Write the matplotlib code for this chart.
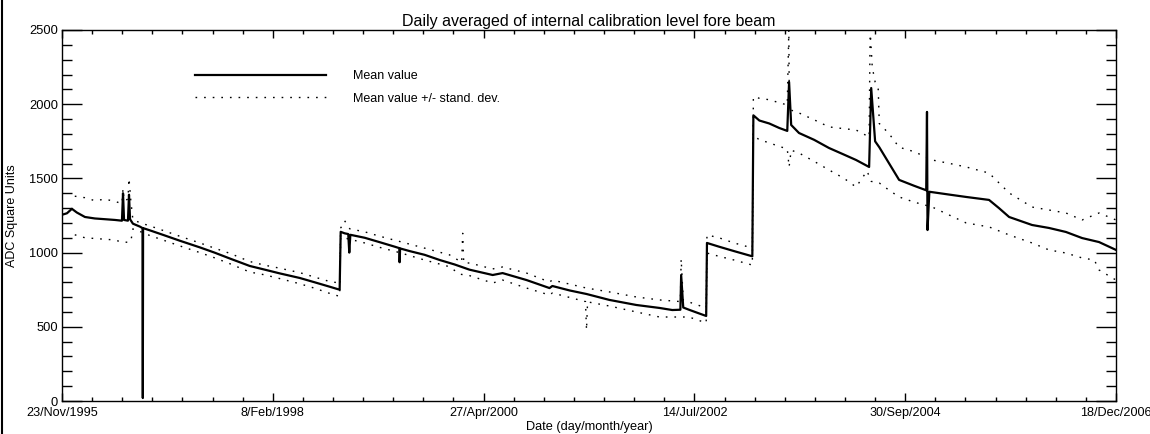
import numpy as np
import matplotlib
matplotlib.use('Agg')
import matplotlib.pyplot as plt
import matplotlib.dates as mdates
from matplotlib.ticker import MultipleLocator, FixedLocator
from matplotlib.lines import Line2D

plt.rcParams['font.family'] = ['Liberation Sans', 'DejaVu Sans']

# daily averages (ADC square units)
mean_dates = ['1995-11-23', '1995-12-12', '1995-12-31', '1996-01-19', '1996-02-19', '1996-03-28',
              '1996-05-06', '1996-06-13', '1996-07-10', '1996-07-14', '1996-07-18', '1996-08-02',
              '1996-08-06', '1996-08-10', '1996-08-21', '1996-09-17', '1996-09-27', '1996-09-28',
              '1996-09-29', '1996-10-25', '1996-12-22', '1997-02-17', '1997-05-05', '1997-06-30',
              '1997-08-28', '1997-11-12', '1998-01-09', '1998-03-07', '1998-05-23', '1998-07-19',
              '1998-09-15', '1998-10-23', '1998-10-27', '1998-11-11', '1998-11-25', '1998-11-29',
              '1998-12-03', '1999-01-27', '1999-03-26', '1999-05-22', '1999-06-09', '1999-06-10',
              '1999-06-12', '1999-07-19', '1999-09-14', '1999-11-11', '2000-01-07', '2000-03-04',
              '2000-06-01', '2000-07-09', '2000-10-09', '2001-01-05', '2001-01-16', '2001-03-23',
              '2001-05-27', '2001-08-23', '2001-12-04', '2002-03-03', '2002-04-21', '2002-05-22',
              '2002-05-25', '2002-06-02', '2002-06-24', '2002-08-02', '2002-08-29', '2002-09-01',
              '2002-10-17', '2002-12-14', '2003-02-22', '2003-02-26', '2003-03-21', '2003-04-28',
              '2003-06-05', '2003-07-06', '2003-07-13', '2003-07-21', '2003-08-20', '2003-10-17',
              '2003-12-13', '2004-02-09', '2004-03-26', '2004-05-15', '2004-05-23', '2004-06-07',
              '2004-06-23', '2004-07-31', '2004-09-07', '2004-11-04', '2004-12-20', '2004-12-23',
              '2004-12-25', '2005-01-01', '2005-03-22', '2005-05-22', '2005-08-18', '2005-09-25',
              '2005-11-03', '2006-01-30', '2006-04-05', '2006-06-09', '2006-08-10', '2006-10-14',
              '2006-12-18']
mean_vals = [1255, 1265, 1295, 1270, 1240, 1230,
             1225, 1220, 1215, 1400, 1220, 1215,
             1390, 1225, 1195, 1175, 1165, 20,
             1165, 1150, 1115, 1080, 1035, 1000,
             960, 910, 885, 860, 829, 800,
             770, 750, 1140, 1130, 1125, 1000,
             1120, 1100, 1070, 1040, 1030, 935,
             1028, 1010, 985, 950, 920, 885,
             849, 862, 815, 761, 775, 745,
             721, 681, 647, 627, 613, 615,
             849, 630, 615, 590, 573, 1065,
             1040, 1010, 975, 1925, 1890, 1870,
             1840, 1820, 2150, 1860, 1806, 1760,
             1705, 1660, 1624, 1577, 2109, 1750,
             1710, 1600, 1490, 1450, 1420, 1948,
             1152, 1410, 1390, 1375, 1355, 1300,
             1240, 1186, 1166, 1139, 1098, 1071,
             1018]

upper_dates = ['1996-01-11', '1996-02-19', '1996-03-28', '1996-05-06', '1996-06-13', '1996-07-10',
               '1996-07-14', '1996-07-18', '1996-08-02', '1996-08-06', '1996-08-13', '1996-08-21',
               '1996-09-28', '1996-10-25', '1996-12-22', '1997-02-17', '1997-05-05', '1997-06-30',
               '1997-08-28', '1997-11-12', '1998-01-09', '1998-03-07', '1998-05-23', '1998-07-19',
               '1998-09-15', '1998-10-23', '1998-10-27', '1998-11-11', '1998-12-01', '1999-01-27',
               '1999-03-26', '1999-06-10', '1999-09-14', '1999-12-18', '2000-02-03', '2000-02-07',
               '2000-02-11', '2000-03-04', '2000-06-01', '2000-07-09', '2000-10-09', '2001-01-05',
               '2001-01-16', '2001-05-27', '2001-08-23', '2001-12-04', '2002-03-03', '2002-05-22',
               '2002-05-25', '2002-06-02', '2002-06-24', '2002-08-29', '2002-09-01', '2002-10-17',
               '2002-12-14', '2003-02-22', '2003-02-26', '2003-03-21', '2003-04-28', '2003-06-05',
               '2003-07-06', '2003-07-12', '2003-07-14', '2003-07-21', '2003-08-20', '2003-10-17',
               '2003-12-13', '2004-02-09', '2004-03-26', '2004-05-15', '2004-05-19', '2004-05-27',
               '2004-06-07', '2004-06-19', '2004-06-23', '2004-07-31', '2004-09-07', '2004-11-04',
               '2005-01-12', '2005-03-22', '2005-05-22', '2005-08-18', '2005-11-03', '2006-01-30',
               '2006-04-05', '2006-06-09', '2006-08-10', '2006-10-14', '2006-12-18']
upper_vals = [1380, 1370, 1350, 1360, 1345, 1330,
              1430, 1350, 1360, 1500, 1350, 1220,
              1195, 1180, 1145, 1110, 1065, 1030,
              995, 940, 915, 895, 865, 835,
              805, 795, 1165, 1215, 1160, 1140,
              1110, 1075, 1030, 985, 935, 1130,
              930, 930, 890, 903, 862, 802,
              815, 761, 735, 701, 681, 670,
              957, 680, 667, 627, 1119, 1100,
              1065, 1031, 2050, 2040, 2030, 2010,
              1995, 2500, 1950, 1960, 1941, 1895,
              1847, 1835, 1826, 1779, 2500, 2250,
              2150, 2100, 1870, 1800, 1710, 1680,
              1624, 1600, 1577, 1536, 1402, 1307,
              1287, 1267, 1220, 1267, 1220]

lower_dates = ['1996-01-11', '1996-02-19', '1996-03-28', '1996-05-06', '1996-06-13', '1996-07-10',
               '1996-08-02', '1996-08-13', '1996-08-21', '1996-09-28', '1996-10-25', '1996-12-22',
               '1997-02-17', '1997-05-05', '1997-06-30', '1997-08-28', '1997-11-12', '1998-01-09',
               '1998-03-07', '1998-05-23', '1998-07-19', '1998-09-15', '1998-10-23', '1998-10-27',
               '1998-12-01', '1999-01-27', '1999-03-26', '1999-06-10', '1999-09-14', '1999-12-18',
               '2000-01-26', '2000-03-04', '2000-06-01', '2000-07-09', '2000-10-09', '2001-01-05',
               '2001-01-16', '2001-05-23', '2001-05-27', '2001-05-31', '2001-08-23', '2001-12-04',
               '2002-03-03', '2002-06-24', '2002-08-29', '2002-09-01', '2002-10-17', '2002-12-14',
               '2003-02-22', '2003-02-26', '2003-03-21', '2003-04-28', '2003-06-05', '2003-07-06',
               '2003-07-13', '2003-07-21', '2003-08-20', '2003-10-17', '2003-12-13', '2004-02-09',
               '2004-03-26', '2004-05-07', '2004-05-23', '2004-06-23', '2004-07-31', '2004-09-07',
               '2004-11-04', '2005-01-12', '2005-03-22', '2005-05-22', '2005-08-18', '2005-11-03',
               '2006-01-30', '2006-04-05', '2006-06-09', '2006-08-10', '2006-09-26', '2006-10-14',
               '2006-12-18']
lower_vals = [1120, 1100, 1095, 1090, 1085, 1070,
              1070, 1075, 1160, 1135, 1115, 1080,
              1045, 1000, 965, 925, 869, 850,
              825, 790, 760, 725, 705, 1105,
              1090, 1065, 1035, 1000, 950, 905,
              855, 845, 795, 815, 761, 714,
              728, 670, 478, 668, 640, 600,
              566, 566, 526, 997, 975, 950,
              916, 1790, 1760, 1740, 1715, 1700,
              1577, 1690, 1671, 1615, 1557, 1500,
              1442, 1550, 1480, 1469, 1420, 1375,
              1340, 1307, 1250, 1200, 1173, 1119,
              1065, 1018, 997, 964, 950, 883,
              815]

x_start = '1995-11-23'
x_end = '2006-12-18'
tick_labels = ['23/Nov/1995', '8/Feb/1998', '27/Apr/2000', '14/Jul/2002', '30/Sep/2004', '18/Dec/2006']

fig = plt.figure(figsize=(11.5, 4.34), dpi=100)
ax = fig.add_axes([62 / 1150, 33 / 434, 1054 / 1150, 371 / 434])

dots = (0, (1.2, 5))
ax.plot(np.array(mean_dates, dtype='datetime64[D]'), mean_vals, color='black', lw=1.6,
        label='Mean value')
ax.plot(np.array(upper_dates, dtype='datetime64[D]'), upper_vals, color='black', lw=1.0,
        linestyle=dots, label='Mean value +/- stand. dev.')
ax.plot(np.array(lower_dates, dtype='datetime64[D]'), lower_vals, color='black', lw=1.0,
        linestyle=dots)

x0 = mdates.date2num(np.datetime64(x_start))
x1 = mdates.date2num(np.datetime64(x_end))
ax.set_xlim(x0, x1)
ax.set_ylim(0, 2500)

ax.xaxis.set_major_locator(FixedLocator(np.linspace(x0, x1, len(tick_labels))))
ax.xaxis.set_minor_locator(FixedLocator(np.linspace(x0, x1, 7 * (len(tick_labels) - 1) + 1)))
ax.set_xticklabels(tick_labels)
ax.yaxis.set_major_locator(MultipleLocator(500))
ax.yaxis.set_minor_locator(MultipleLocator(100))

ax.tick_params(axis='y', which='major', direction='in', length=14.5, width=1,
               left=True, right=True, labelsize=9.3, pad=3)
ax.tick_params(axis='y', which='minor', direction='in', length=7.2, width=1,
               left=True, right=True)
ax.tick_params(axis='x', which='major', direction='in', length=5.5, width=1,
               bottom=True, top=True, labelsize=9.1, pad=4)
ax.tick_params(axis='x', which='minor', direction='in', length=3, width=1,
               bottom=True, top=True)
for s in ax.spines.values():
    s.set_linewidth(1)

ax.set_title('Daily averaged of internal calibration level fore beam', fontsize=11.5, pad=3)
ax.set_ylabel('ADC Square Units', fontsize=9)
ax.yaxis.set_label_coords(-0.0417, 0.5)
ax.set_xlabel('Date (day/month/year)', fontsize=9.2, va='top')
ax.xaxis.set_label_coords(0.5, -0.055)

ax.legend(loc='upper left', bbox_to_anchor=(0.1262, 0.892), frameon=False, borderpad=0,
          borderaxespad=0, handlelength=10.5, handletextpad=2.1, labelspacing=0.85, fontsize=9)

# thin frame line at the left edge of the page
fig.add_artist(Line2D([0.0015, 0.0015], [0, 1], transform=fig.transFigure, color='black', lw=1.5))

fig.savefig('out.png', dpi=100)
